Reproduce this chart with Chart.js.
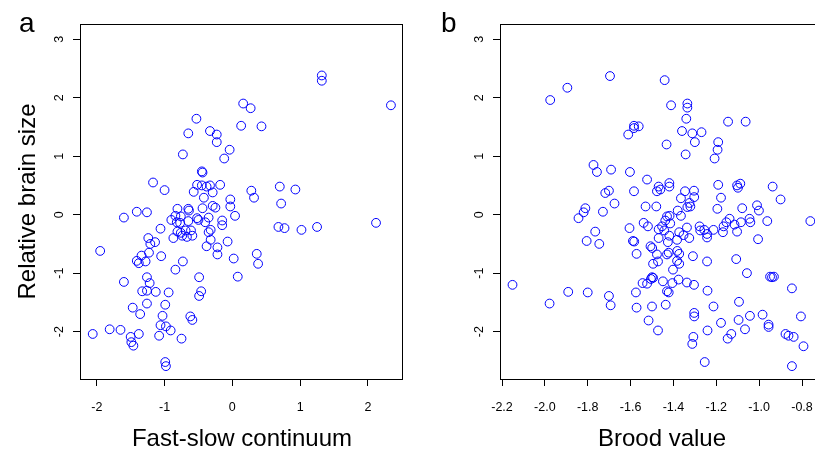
<!DOCTYPE html>
<html>
<head>
<meta charset="utf-8">
<script src="https://cdn.jsdelivr.net/npm/chart.js@4"></script>
<style>
  html, body { margin: 0; padding: 0; background: #fff; overflow: hidden; width: 815px; height: 452px; }
  canvas { position: absolute; top: 0; }
  #chartA { left: 0; }
  #chartB { left: 420px; }
</style>
</head>
<body>
<canvas id="chartA" width="420" height="452"></canvas>
<canvas id="chartB" width="420" height="452"></canvas>
<script>
// panel a: fast-slow continuum vs relative brain size
const fastSlowPoints = [
  [1.32, 2.38], [1.32, 2.29], [2.34, 1.87], [0.16, 1.90], [0.27, 1.82], [-0.53, 1.64], [0.13, 1.52],
  [0.43, 1.51], [-0.65, 1.39], [-0.33, 1.43], [-0.23, 1.37], [-0.23, 1.24], [-0.04, 1.11], [-0.12, 0.96],
  [-0.73, 1.03], [-0.45, 0.74], [-0.44, 0.72],
  [-1.17, 0.55], [-1.00, 0.42], [-0.52, 0.51], [-0.45, 0.50], [-0.38, 0.48], [-0.33, 0.50], [-0.18, 0.51],
  [-0.57, 0.39], [-0.29, 0.38], [-0.42, 0.29], [0.28, 0.41], [0.32, 0.29], [0.70, 0.48], [0.93, 0.43],
  [0.72, 0.19], [-0.03, 0.26], [-0.03, 0.14], [-0.29, 0.15], [-0.25, 0.12], [-0.44, 0.11], [-0.65, 0.10],
  [-0.64, 0.07], [-0.81, 0.10], [-1.41, 0.05], [-1.26, 0.04], [-1.60, -0.05], [0.04, -0.02], [-0.84, -0.02],
  [-0.76, -0.03], [-0.90, -0.09], [-0.52, -0.06], [-0.50, -0.09], [-0.35, -0.05], [-0.40, -0.13], [-0.65, -0.11],
  [-0.82, -0.13], [-0.77, -0.14], [-0.15, -0.10], [-0.15, -0.18], [-1.06, -0.24], [0.68, -0.21], [0.77, -0.23],
  [1.02, -0.26], [1.25, -0.21], [2.12, -0.14], [-0.81, -0.29], [-0.76, -0.31], [-0.69, -0.27], [-0.61, -0.27],
  [-0.59, -0.36], [-0.67, -0.38], [-0.74, -0.36], [-0.87, -0.40], [-0.32, -0.26], [-0.35, -0.30], [-0.32, -0.43],
  [-0.07, -0.46], [-1.24, -0.40], [-1.14, -0.47], [-1.21, -0.50], [-0.38, -0.54], [-0.22, -0.56], [-0.22, -0.68],
  [-1.95, -0.62], [-1.23, -0.65], [-1.34, -0.70], [-1.05, -0.71], [-1.41, -0.79], [-1.38, -0.83], [-1.28, -0.80],
  [-0.73, -0.80], [0.02, -0.75], [0.36, -0.67], [0.38, -0.84], [-0.84, -0.94], [0.08, -1.06], [-0.49, -1.07],
  [-1.26, -1.07], [-1.60, -1.15], [-1.22, -1.17], [-1.33, -1.31], [-1.26, -1.30], [-1.13, -1.32], [-0.94, -1.33],
  [-0.46, -1.31], [-0.49, -1.39], [-1.26, -1.52], [-0.99, -1.54], [-1.47, -1.59], [-1.36, -1.70], [-1.03, -1.73],
  [-0.62, -1.74], [-0.59, -1.80], [-1.06, -1.89], [-0.98, -1.91], [-0.91, -1.98], [-0.75, -2.12], [-2.06, -2.04],
  [-1.81, -1.96], [-1.65, -1.97], [-1.38, -2.04], [-1.50, -2.09], [-1.49, -2.18], [-1.46, -2.24], [-1.08, -2.07],
  [-0.99, -2.52], [-0.98, -2.59]
];

// panel b: brood value vs relative brain size
const broodPoints = [
  [-1.975, 1.96], [-1.895, 2.17], [-1.696, 2.37], [-1.441, 2.30], [-1.411, 1.87], [-1.335, 1.90], [-1.335, 1.83],
  [-1.340, 1.64], [-1.360, 1.43], [-1.312, 1.39], [-1.269, 1.41], [-1.300, 1.24], [-1.432, 1.20], [-1.343, 1.03],
  [-1.611, 1.37], [-1.584, 1.52], [-1.584, 1.48], [-1.562, 1.51], [-1.145, 1.59], [-1.063, 1.59], [-1.191, 1.24],
  [-1.194, 1.11], [-1.208, 0.96], [-1.773, 0.85], [-1.757, 0.73], [-1.691, 0.77], [-1.603, 0.73], [-1.523, 0.60],
  [-1.469, 0.48], [-1.477, 0.40], [-1.461, 0.43], [-1.419, 0.54], [-1.419, 0.48], [-1.718, 0.37], [-1.701, 0.41],
  [-1.584, 0.40], [-1.675, 0.19], [-1.530, 0.14], [-1.480, 0.14], [-1.346, 0.40], [-1.304, 0.41], [-1.191, 0.51],
  [-1.103, 0.50], [-1.099, 0.46], [-1.088, 0.53], [-0.937, 0.48], [-0.900, 0.26], [-1.365, 0.28], [-1.303, 0.30],
  [-1.325, 0.20], [-1.335, 0.13], [-1.321, 0.14], [-1.380, 0.07], [-1.365, -0.02], [-1.178, 0.29], [-1.195, 0.10],
  [-1.079, 0.11], [-1.010, 0.16], [-1.001, 0.07], [-1.811, 0.11], [-1.819, 0.04], [-1.843, -0.06], [-1.729, 0.05],
  [-0.761, -0.11], [-1.430, -0.03], [-1.418, -0.02], [-1.438, -0.10], [-1.415, -0.15], [-1.539, -0.14], [-1.519, -0.20],
  [-1.605, -0.23], [-1.453, -0.20], [-1.469, -0.25], [-1.443, -0.27], [-1.337, -0.22], [-1.278, -0.20], [-1.275, -0.27],
  [-1.256, -0.26], [-1.243, -0.33], [-1.243, -0.39], [-1.213, -0.26], [-1.166, -0.20], [-1.153, -0.13], [-1.138, -0.07],
  [-1.169, -0.30], [-1.115, -0.17], [-1.103, -0.29], [-1.085, -0.13], [-1.045, -0.07], [-1.041, -0.13], [-0.962, -0.11],
  [-1.005, -0.42], [-1.373, -0.30], [-1.353, -0.35], [-1.326, -0.40], [-1.383, -0.43], [-1.419, -0.36], [-1.469, -0.40],
  [-1.426, -0.47], [-1.589, -0.45], [-1.583, -0.46], [-1.765, -0.29], [-1.805, -0.45], [-1.746, -0.50], [-1.507, -0.54],
  [-1.499, -0.57], [-1.572, -0.67], [-1.477, -0.68], [-1.430, -0.68], [-1.422, -0.65], [-1.382, -0.62], [-1.373, -0.67],
  [-1.309, -0.71], [-1.383, -0.79], [-1.373, -0.84], [-1.495, -0.84], [-1.472, -0.80], [-1.243, -0.80], [-1.107, -0.76],
  [-1.402, -0.94], [-1.057, -1.00], [-1.500, -1.07], [-1.495, -1.08], [-1.505, -1.10], [-1.544, -1.17], [-1.523, -1.18],
  [-1.449, -1.14], [-1.405, -1.17], [-1.376, -1.11], [-1.337, -1.16], [-1.304, -1.20], [-1.430, -1.31], [-1.422, -1.33],
  [-1.575, -1.33], [-1.241, -1.30], [-0.949, -1.06], [-0.940, -1.07], [-0.931, -1.06], [-0.847, -1.26], [-2.151, -1.20],
  [-1.891, -1.32], [-1.800, -1.33], [-1.978, -1.52], [-1.701, -1.39], [-1.693, -1.55], [-1.572, -1.59], [-1.500, -1.57],
  [-1.436, -1.54], [-1.516, -1.81], [-1.472, -1.98], [-1.213, -1.57], [-1.094, -1.49], [-1.303, -1.68], [-1.303, -1.74],
  [-1.178, -1.85], [-1.096, -1.80], [-1.043, -1.73], [-0.984, -1.71], [-1.066, -1.96], [-0.956, -1.88], [-0.956, -1.92],
  [-0.805, -1.74], [-1.241, -1.98], [-1.130, -2.04], [-1.147, -2.12], [-1.307, -2.09], [-1.312, -2.21], [-0.877, -2.04],
  [-0.863, -2.07], [-0.839, -2.09], [-0.793, -2.25], [-1.254, -2.52], [-0.847, -2.59]
];

const yRange = [-2.81, 3.26];
const fastSlowRange = [-2.233, 2.518];
const broodRange = [-2.2047, -0.702];

const FONT = '"Liberation Sans", Arial, Helvetica, sans-serif';

// box round the plot region plus the panel letter
const panelBox = {
  id: 'panelBox',
  afterDraw(chart, args, opts) {
    const { ctx, chartArea: a } = chart;
    ctx.save();
    ctx.strokeStyle = '#000';
    ctx.lineWidth = 1;
    ctx.strokeRect(a.left - 0.5, a.top + 0.5, a.right - a.left, a.bottom - a.top);
    ctx.fillStyle = '#000';
    ctx.font = '28px ' + FONT;
    ctx.textBaseline = 'alphabetic';
    ctx.fillText(opts.letter, opts.lx, 32);
    ctx.restore();
  }
};

function makePanel(id, points, xRange, xStep, xTitle, yTitle, letter, lx, fmt) {
  return new Chart(id, {
    type: 'scatter',
    data: {
      datasets: [{
        data: points.map((p) => ({ x: p[0], y: p[1] })),
        pointStyle: 'circle',
        pointRadius: 4.4,
        pointHoverRadius: 4.4,
        pointBorderWidth: 1,
        pointBorderColor: '#0000ff',
        pointBackgroundColor: 'rgba(0,0,0,0)',
        borderColor: '#0000ff',
        backgroundColor: 'rgba(0,0,0,0)',
      }],
    },
    options: {
      responsive: false,
      animation: false,
      devicePixelRatio: 1,
      events: [],
      layout: { padding: { left: 0, top: 24, right: 17, bottom: 0 } },
      plugins: {
        legend: { display: false },
        tooltip: { enabled: false },
        panelBox: { letter: letter, lx: lx },
      },
      scales: {
        x: {
          type: 'linear',
          min: xRange[0],
          max: xRange[1],
          afterFit: (s) => { s.height = 73; },
          border: { display: false },
          grid: { drawOnChartArea: false, drawTicks: true, tickLength: 7, color: '#000', lineWidth: 1 },
          ticks: {
            stepSize: xStep,
            includeBounds: false,
            padding: 14.1,
            color: '#000',
            font: { family: FONT, size: 12.5 },
            maxRotation: 0,
            autoSkip: false,
            callback: fmt,
          },
          title: {
            display: true,
            text: xTitle,
            color: '#000',
            font: { family: FONT, size: 24, lineHeight: 1 },
            padding: { top: 0, bottom: 1 },
          },
        },
        y: {
          type: 'linear',
          min: yRange[0],
          max: yRange[1],
          afterFit: (s) => { s.width = 81; },
          border: { display: false },
          grid: { drawOnChartArea: false, drawTicks: true, tickLength: 8, color: '#000', lineWidth: 1 },
          ticks: {
            stepSize: 1,
            includeBounds: false,
            padding: 8.1,
            minRotation: 90,
            maxRotation: 90,
            crossAlign: 'center',
            color: '#000',
            font: { family: FONT, size: 12.5 },
          },
          title: {
            display: !!yTitle,
            text: yTitle,
            color: '#000',
            font: { family: FONT, size: 24, lineHeight: 1 },
            padding: { top: 16.2, bottom: 0 },
          },
        },
      },
    },
    plugins: [panelBox],
  });
}

makePanel('chartA', fastSlowPoints, fastSlowRange, 1, 'Fast-slow continuum', 'Relative brain size', 'a', 19,
  (v) => v);
makePanel('chartB', broodPoints, broodRange, 0.2, 'Brood value', '', 'b', 21,
  (v) => v.toFixed(1));
</script>
</body>
</html>
